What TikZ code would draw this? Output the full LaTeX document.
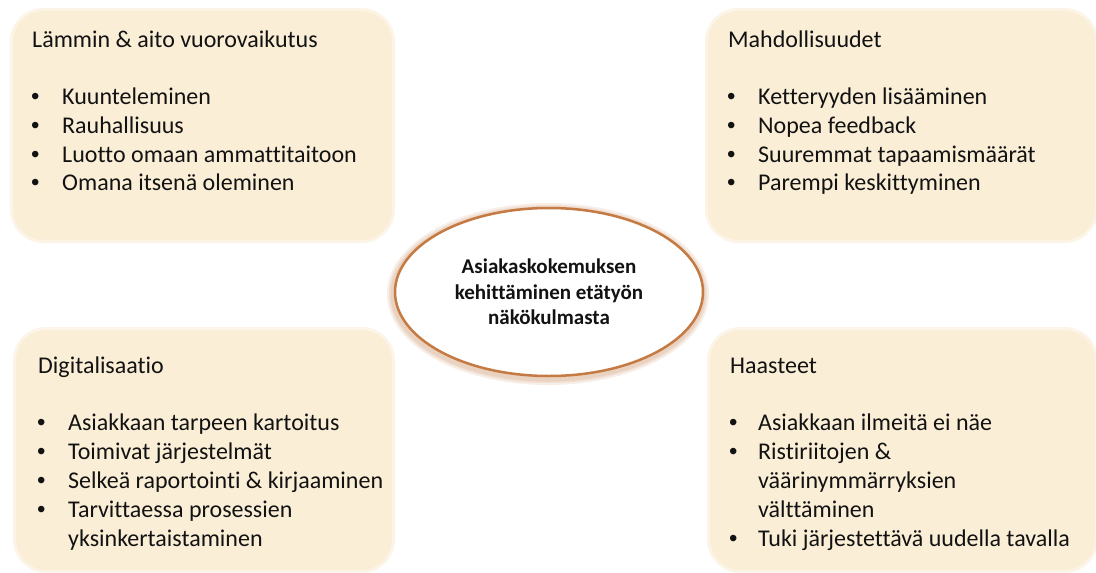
\documentclass[tikz,border=0pt]{standalone}
\usepackage{fontspec}
\setmainfont{Carlito}[Ligatures={NoCommon,NoContextual}]
\newfontfamily\bulletfont{Liberation Sans}
\usetikzlibrary{shapes.geometric}
\definecolor{boxfill}{RGB}{250,238,215}
\definecolor{boxedge}{RGB}{252,244,231}
\definecolor{ellborder}{RGB}{196,122,66}
\definecolor{txt}{RGB}{18,18,18}
\tikzset{
  panel/.style={fill=boxfill, draw=boxedge, line width=3pt, rounded corners=32pt, anchor=north west, inner sep=0pt},
  line/.style={anchor=base west, inner sep=0pt, font=\fontsize{24}{29}\selectfont, text=txt},
  dot/.style={anchor=base west, inner sep=0pt, font=\bulletfont\fontsize{24}{29}\selectfont, text=txt},
  centre/.style={ellipse, minimum width=308pt, minimum height=168pt, fill=white, draw=ellborder, line width=2.5pt, align=center, font=\bfseries\fontsize{21}{25.5}\selectfont, text=txt, inner sep=0pt},
  glow/.style={draw=ellborder, line width=#1, opacity=0.12},
}
\begin{document}
\begin{tikzpicture}[x=1pt,y=1pt]
\useasboundingbox (0,0) rectangle (1096,-573);
\fill[white] (0,0) rectangle (1096,-573);
% panels
\node[panel, minimum width=382pt, minimum height=232pt] (tl) at (10,-8) {};
\node[panel, minimum width=390pt, minimum height=232pt] (tr) at (705,-8) {};
\node[panel, minimum width=379pt, minimum height=243pt] (bl) at (13,-327) {};
\node[panel, minimum width=388pt, minimum height=243pt] (br) at (707,-327) {};
% centre ellipse glow
\foreach \w in {12pt,8pt,5pt}{
  \draw[glow=\w] (548,-294) ellipse [x radius=155pt, y radius=85pt];
}
\node[centre] (c) at (549,-292) {Asiakaskokemuksen\\kehittäminen etätyön\\näkökulmasta};
% top left
\node[line] (tlh) at (32,-47) {Lämmin \& aito vuorovaikutus};
\node[dot] (tlb1) at (31,-104) {•}; \node[line] (tl1) at (62,-104) {Kuunteleminen};
\node[dot] (tlb2) at (31,-133) {•}; \node[line] (tl2) at (62,-133) {Rauhallisuus};
\node[dot] (tlb3) at (31,-162) {•}; \node[line] (tl3) at (62,-162) {Luotto omaan ammattitaitoon};
\node[dot] (tlb4) at (31,-190) {•}; \node[line] (tl4) at (62,-190) {Omana itsenä oleminen};
% top right
\node[line] (trh) at (728,-47) {Mahdollisuudet};
\node[dot] (trb1) at (727,-104) {•}; \node[line] (tr1) at (758,-104) {Ketteryyden lisääminen};
\node[dot] (trb2) at (727,-133) {•}; \node[line] (tr2) at (758,-133) {Nopea feedback};
\node[dot] (trb3) at (727,-162) {•}; \node[line] (tr3) at (758,-162) {Suuremmat tapaamismäärät};
\node[dot] (trb4) at (727,-190) {•}; \node[line] (tr4) at (758,-190) {Parempi keskittyminen};
% bottom left
\node[line] (blh) at (38,-373) {Digitalisaatio};
\node[dot] (blb1) at (37,-430) {•}; \node[line] (bl1) at (68,-430) {Asiakkaan tarpeen kartoitus};
\node[dot] (blb2) at (37,-459) {•}; \node[line] (bl2) at (68,-459) {Toimivat järjestelmät};
\node[dot] (blb3) at (37,-488) {•}; \node[line] (bl3) at (68,-488) {Selkeä raportointi \& kirjaaminen};
\node[dot] (blb4) at (37,-517) {•}; \node[line] (bl4) at (68,-517) {Tarvittaessa prosessien};
\node[line] (bl5) at (68,-546) {yksinkertaistaminen};
% bottom right
\node[line] (brh) at (730,-373) {Haasteet};
\node[dot] (brb1) at (729,-430) {•}; \node[line] (br1) at (758,-430) {Asiakkaan ilmeitä ei näe};
\node[dot] (brb2) at (729,-459) {•}; \node[line] (br2) at (758,-459) {Ristiriitojen \&};
\node[line] (br3) at (758,-488) {väärinymmärryksien};
\node[line] (br4) at (758,-517) {välttäminen};
\node[dot] (brb5) at (729,-546) {•}; \node[line] (br5) at (758,-546) {Tuki järjestettävä uudella tavalla};
\end{tikzpicture}
\end{document}
